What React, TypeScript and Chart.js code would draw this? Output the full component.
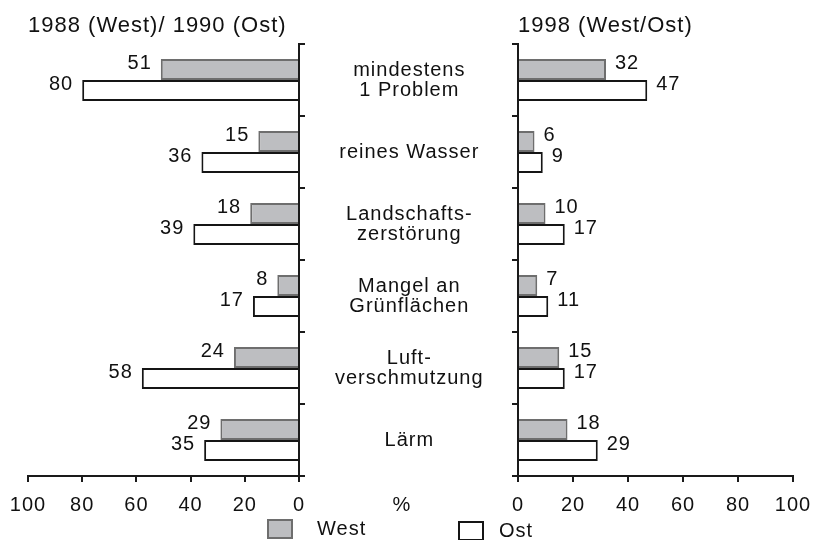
import React, { useEffect, useRef } from 'react';
import { Chart, registerables } from 'chart.js';

Chart.register(...registerables);

// ---- data ----
const categories: (string | string[])[] = [
  ['mindestens', '1 Problem'],
  'reines Wasser',
  ['Landschafts-', 'zerstörung'],
  ['Mangel an', 'Grünflächen'],
  ['Luft-', 'verschmutzung'],
  'Lärm',
];
const west1988 = [51, 15, 18, 8, 24, 29];
const ost1990 = [80, 36, 39, 17, 58, 35];
const west1998 = [32, 6, 10, 7, 15, 18];
const ost1998 = [47, 9, 17, 11, 17, 29];
const xTickValues = [0, 20, 40, 60, 80, 100];
const seriesNames = ['West', 'Ost'];
const leftTitle = '1988 (West)/ 1990 (Ost)';
const rightTitle = '1998 (West/Ost)';
const unitLabel = '%';

// ---- style ----
const FONT = "'Liberation Sans', Arial, Helvetica, sans-serif";
const TEXT = '#111111';
const AXIS = '#1a1a1a';
const SPACING = '1px';
const WEST_FILL = '#bdbec1';
const WEST_BORDER = '#6e6e6e';
const OST_FILL = '#ffffff';
const OST_BORDER = '#151515';

const spacingPlugin = {
  id: 'spacing',
  beforeUpdate(chart: any) {
    chart.ctx.letterSpacing = SPACING;
  },
  beforeLayout(chart: any) {
    chart.ctx.letterSpacing = SPACING;
  },
  beforeDraw(chart: any) {
    chart.ctx.letterSpacing = SPACING;
  },
};

const valueLabelPlugin = {
  id: 'valueLabels',
  afterDatasetsDraw(chart: any, _args: any, opts: any) {
    const ctx = chart.ctx;
    const isLeft = opts.side === 'left';
    ctx.save();
    ctx.font = `20px ${FONT}`;
    ctx.fillStyle = TEXT;
    ctx.textBaseline = 'middle';
    ctx.textAlign = isLeft ? 'right' : 'left';
    chart.data.datasets.forEach((ds: any, i: number) => {
      const meta = chart.getDatasetMeta(i);
      meta.data.forEach((bar: any, j: number) => {
        const x = bar.x + (isLeft ? -9 : 9);
        ctx.fillText(String(ds.data[j]), x, bar.y - 6);
      });
    });
    ctx.restore();
  },
};

const extrasPlugin = {
  id: 'extras',
  afterDraw(chart: any, _args: any, opts: any) {
    if (!opts.enabled) return;
    const ctx = chart.ctx;
    ctx.save();
    ctx.font = `20px ${FONT}`;
    ctx.fillStyle = TEXT;
    ctx.textBaseline = 'middle';
    ctx.textAlign = 'center';
    ctx.fillText(unitLabel, 402, 505);
    // legend
    const items = [
      { box: [268, 520], text: [317, 529] },
      { box: [459, 522], text: [499, 531] },
    ];
    chart.data.datasets.forEach((ds: any, i: number) => {
      const it = items[i];
      ctx.fillStyle = ds.backgroundColor;
      ctx.fillRect(it.box[0], it.box[1], 24, 18);
      ctx.lineWidth = 2;
      ctx.strokeStyle = ds.borderColor;
      ctx.strokeRect(it.box[0], it.box[1], 24, 18);
      ctx.fillStyle = TEXT;
      ctx.textAlign = 'left';
      ctx.fillText(ds.label, it.text[0], it.text[1]);
    });
    ctx.restore();
  },
};

function dataset(label: string, data: number[], kind: 'west' | 'ost') {
  return {
    label,
    data,
    backgroundColor: kind === 'west' ? WEST_FILL : OST_FILL,
    borderColor: kind === 'west' ? WEST_BORDER : OST_BORDER,
    borderWidth: 2,
    categoryPercentage: 0.58,
    barPercentage: 1.0,
  };
}

function measureWidest(): number {
  const c = document.createElement('canvas').getContext('2d') as any;
  c.font = `20px ${FONT}`;
  c.letterSpacing = SPACING;
  let w = 0;
  categories.forEach((l) => {
    (Array.isArray(l) ? l : [l]).forEach((s) => {
      w = Math.max(w, c.measureText(s).width);
    });
  });
  return w;
}

function makeOptions(side: 'left' | 'right', title: string, labelPad: number): any {
  const isLeft = side === 'left';
  return {
    indexAxis: 'y',
    responsive: false,
    maintainAspectRatio: false,
    animation: false,
    events: [],
    layout: {
      padding: isLeft
        ? { left: 28, right: 311, top: 0, bottom: 24 }
        : { left: 508, right: 36, top: 0, bottom: 24 },
    },
    plugins: {
      legend: { display: false },
      tooltip: { enabled: false },
      title: {
        display: true,
        text: title,
        align: 'start',
        fullSize: false,
        color: TEXT,
        font: { family: FONT, size: 22, weight: 'normal', lineHeight: 24 / 22 },
        padding: { top: 14, bottom: 6 },
      },
      valueLabels: { side },
      extras: { enabled: isLeft },
    },
    scales: {
      x: {
        type: 'linear',
        position: 'bottom',
        min: 0,
        max: 100,
        reverse: isLeft,
        afterBuildTicks: (s: any) => {
          s.ticks = xTickValues.map((v) => ({ value: v }));
        },
        afterFit: (s: any) => {
          s.height = 40;
        },
        grid: {
          drawOnChartArea: false,
          drawTicks: true,
          tickLength: 6,
          color: AXIS,
          lineWidth: 2,
        },
        border: { display: true, color: AXIS, width: 2 },
        ticks: {
          color: TEXT,
          font: { family: FONT, size: 20 },
          padding: 11,
          maxRotation: 0,
          autoSkip: false,
        },
      },
      y: {
        type: 'category',
        position: isLeft ? 'right' : 'left',
        offset: true,
        afterFit: (s: any) => {
          s.width = isLeft ? 219 : 10;
        },
        grid: {
          drawOnChartArea: false,
          drawTicks: true,
          tickLength: 6,
          offset: true,
          color: AXIS,
          lineWidth: 2,
        },
        border: { display: true, color: AXIS, width: 2 },
        ticks: {
          display: isLeft,
          crossAlign: 'center',
          padding: labelPad,
          color: TEXT,
          font: { family: FONT, size: 20, lineHeight: 1.0 },
          autoSkip: false,
        },
      },
    },
  };
}

export default function App() {
  const leftRef = useRef<HTMLCanvasElement>(null);
  const rightRef = useRef<HTMLCanvasElement>(null);

  useEffect(() => {
    document.body.style.margin = '0';
    const widest = measureWidest();
    const labelPad = Math.round(104 - widest / 2);
    const left = new Chart(leftRef.current as HTMLCanvasElement, {
      type: 'bar',
      data: {
        labels: categories as any,
        datasets: [
          dataset(seriesNames[0], west1988, 'west'),
          dataset(seriesNames[1], ost1990, 'ost'),
        ],
      },
      options: makeOptions('left', leftTitle, labelPad),
      plugins: [spacingPlugin, valueLabelPlugin, extrasPlugin],
    } as any);
    const right = new Chart(rightRef.current as HTMLCanvasElement, {
      type: 'bar',
      data: {
        labels: categories as any,
        datasets: [
          dataset(seriesNames[0], west1998, 'west'),
          dataset(seriesNames[1], ost1998, 'ost'),
        ],
      },
      options: makeOptions('right', rightTitle, 0),
      plugins: [spacingPlugin, valueLabelPlugin],
    } as any);
    return () => {
      left.destroy();
      right.destroy();
    };
  }, []);

  return (
    <div style={{ position: 'absolute', left: 0, top: 0, width: 829, height: 540, background: '#ffffff' }}>
      <canvas ref={leftRef} width={829} height={540} style={{ position: 'absolute', left: 0, top: 0 }} />
      <canvas ref={rightRef} width={829} height={540} style={{ position: 'absolute', left: 0, top: 0 }} />
    </div>
  );
}
